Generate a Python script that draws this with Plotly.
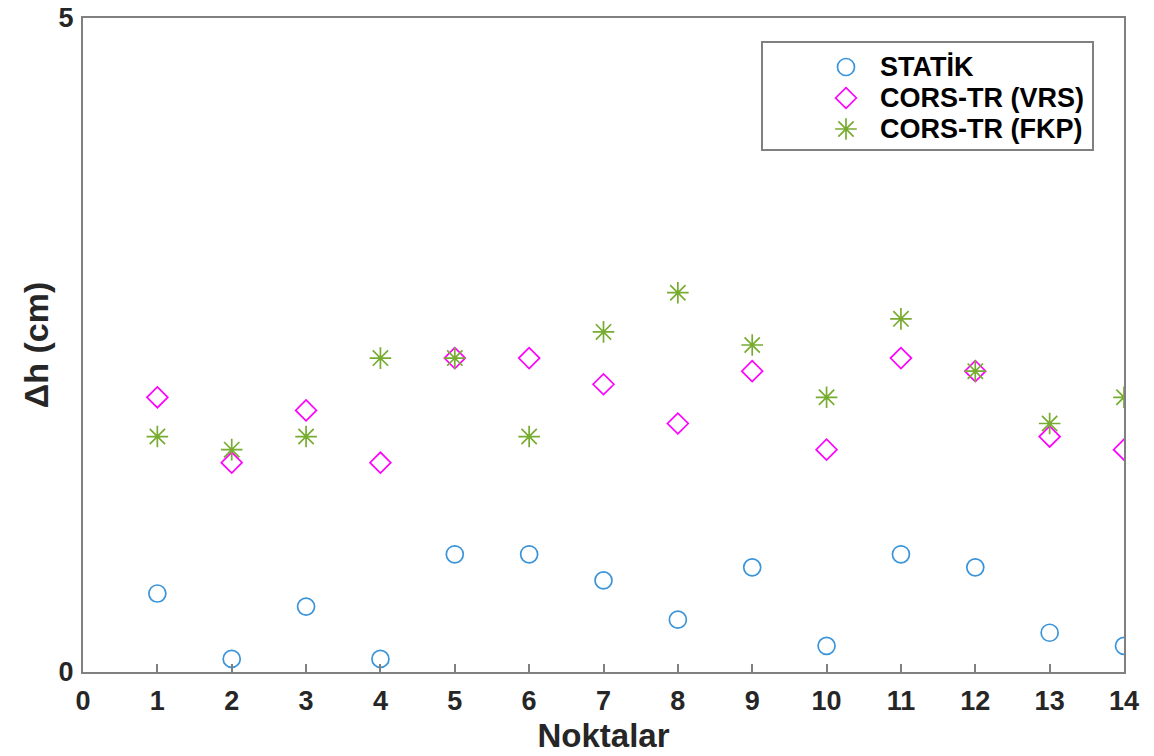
import plotly.graph_objects as go

# Measurement points and height differences (cm)
points = list(range(1, 15))
statik = [0.6, 0.1, 0.5, 0.1, 0.9, 0.9, 0.7, 0.4, 0.8, 0.2, 0.9, 0.8, 0.3, 0.2]
vrs = [2.1, 1.6, 2.0, 1.6, 2.4, 2.4, 2.2, 1.9, 2.3, 1.7, 2.4, 2.3, 1.8, 1.7]
fkp = [1.8, 1.7, 1.8, 2.4, 2.4, 1.8, 2.6, 2.9, 2.5, 2.1, 2.7, 2.3, 1.9, 2.1]

series_names = ["STATİK", "CORS-TR (VRS)", "CORS-TR (FKP)"]
x_ticks = list(range(0, 15))
y_ticks = [0, 5]

FONT = "Liberation Sans"
TXT = "#262626"
AX = "#808080"

W, H = 1154, 756
L, R, T, B = 83, 30, 18, 84

styles = [
    dict(symbol="circle-open", size=17, color="#3a94da"),
    dict(symbol="diamond-open", size=16, color="#ff00ff"),
    dict(symbol="asterisk-open", size=18, color="#77ac30"),
]

fig = go.Figure()
for name, vals, st in zip(series_names, [statik, vrs, fkp], styles):
    fig.add_trace(go.Scatter(
        x=points, y=vals, mode="markers", name=name, showlegend=False,
        marker=dict(symbol=st["symbol"], size=st["size"], color=st["color"],
                    line=dict(width=1.7, color=st["color"])),
    ))

axis_common = dict(
    showgrid=False, zeroline=False, showline=True, mirror=True,
    linecolor=AX, linewidth=2, ticks="inside", ticklen=8, tickwidth=2,
    tickcolor=AX,
    tickfont=dict(family=FONT, size=27, color=TXT, weight="bold"),
)

fig.update_xaxes(
    range=[0, 14], tickmode="array", tickvals=x_ticks,
    ticktext=[str(v) for v in x_ticks], ticklabelstandoff=4,
    title=dict(text="Noktalar", standoff=8,
               font=dict(family=FONT, size=33, color=TXT, weight="bold")),
    **axis_common,
)
fig.update_yaxes(
    range=[0, 5], tickmode="array", tickvals=y_ticks,
    ticktext=[str(v) for v in y_ticks], ticklabelstandoff=2,
    title=dict(text="Δh (cm)", standoff=0,
               font=dict(family=FONT, size=34, color=TXT, weight="bold")),
    **axis_common,
)

# Legend: frame, key symbols on a pixel-scaled overlay axis, and labels
legend_box = dict(x0=762, x1=1093, y0=42, y1=150)
legend_rows = [67, 98, 129]
legend_key_x = 846
legend_text_x = 878

fig.update_layout(
    xaxis2=dict(overlaying="x", range=[L, W - R], visible=False,
                fixedrange=True),
    yaxis2=dict(overlaying="y", range=[H - B, T], visible=False,
                fixedrange=True),
)
fig.add_shape(type="rect", xref="x2", yref="y2",
              x0=legend_box["x0"], x1=legend_box["x1"],
              y0=legend_box["y0"], y1=legend_box["y1"],
              line=dict(color=AX, width=2), fillcolor="white", layer="below")
for name, ry, st in zip(series_names, legend_rows, styles):
    fig.add_trace(go.Scatter(
        x=[legend_key_x], y=[ry], xaxis="x2", yaxis="y2", mode="markers",
        showlegend=False, hoverinfo="skip",
        marker=dict(symbol=st["symbol"], size=st["size"], color=st["color"],
                    line=dict(width=1.7, color=st["color"])),
    ))
    fig.add_annotation(
        x=legend_text_x, y=ry, xref="x2", yref="y2", text=name,
        showarrow=False, xanchor="left", yanchor="middle",
        font=dict(family=FONT, size=27, color="black", weight="bold"),
    )

fig.update_layout(
    width=W, height=H,
    margin=dict(l=L, r=R, t=T, b=B, autoexpand=False),
    paper_bgcolor="white", plot_bgcolor="white",
    showlegend=False,
)

fig.write_html("out.html")
